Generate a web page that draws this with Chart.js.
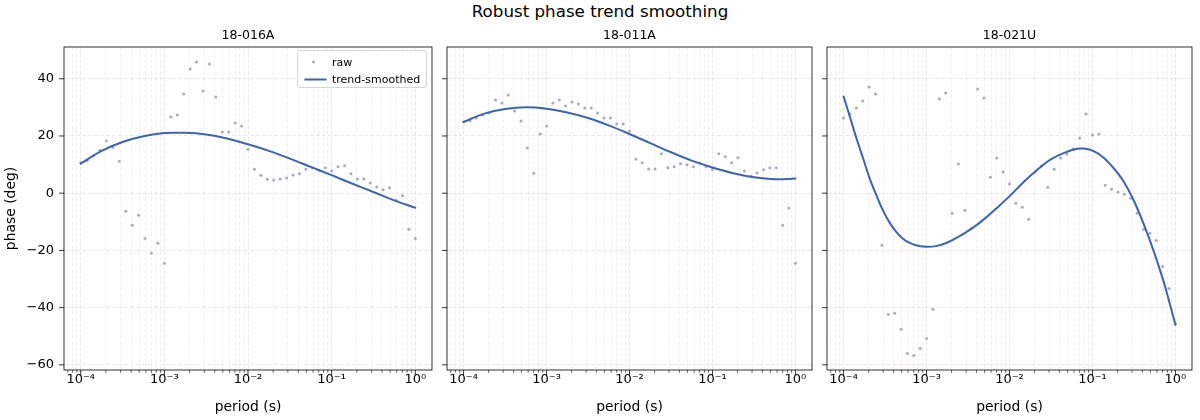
<!DOCTYPE html>
<html><head><meta charset="utf-8">
<script src="https://cdn.jsdelivr.net/npm/chart.js@4.4.1/dist/chart.umd.min.js"></script>
<style>
html,body{margin:0;padding:0;background:#fff;}
#wrap{position:relative;width:1200px;height:420px;overflow:hidden;background:#fff;}
canvas{position:absolute;top:0;}
#suptitle{position:absolute;left:0;top:0;width:1200px;text-align:center;font-family:"DejaVu Sans";font-size:16.7px;line-height:23px;color:#000;}
</style></head><body>
<div id="wrap">
<div id="suptitle">Robust phase trend smoothing</div>
<canvas id="c1" width="440" height="420" style="left:0px"></canvas>
<canvas id="c2" width="385" height="420" style="left:435px"></canvas>
<canvas id="c3" width="385" height="420" style="left:815px"></canvas>
</div>
<script>
// ---- data ----
const stations = ['18-016A', '18-011A', '18-021U'];
const periods = [
  1.000e-4, 1.194e-4, 1.425e-4, 1.701e-4, 2.031e-4, 2.424e-4, 2.894e-4, 3.455e-4, 4.125e-4, 4.924e-4, 5.878e-4, 7.017e-4, 8.377e-4,
  1.000e-3, 1.194e-3, 1.425e-3, 1.701e-3, 2.031e-3, 2.424e-3, 2.894e-3, 3.455e-3, 4.125e-3, 4.924e-3, 5.878e-3, 7.017e-3, 8.377e-3,
  1.000e-2, 1.194e-2, 1.425e-2, 1.701e-2, 2.031e-2, 2.424e-2, 2.894e-2, 3.455e-2, 4.125e-2, 4.924e-2, 5.878e-2, 7.017e-2, 8.377e-2,
  1.000e-1, 1.194e-1, 1.425e-1, 1.701e-1, 2.031e-1, 2.424e-1, 2.894e-1, 3.455e-1, 4.125e-1, 4.924e-1, 5.878e-1, 7.017e-1, 8.377e-1,
  1.000
];
const raw1 = [10.6, 11.4, 13.1, 15.0, 18.2, 16.1, 11.2, -6.3, -11.2, -7.7, -15.8, -21.0, -17.5, -24.5,
  26.6, 27.3, 34.7, 43.4, 45.9, 35.7, 45.2, 33.6, 21.4, 21.4, 24.5, 23.5, 15.4, 8.4, 6.3, 4.9, 4.6, 5.0,
  5.3, 6.4, 6.8, 8.5, 8.9, 8.0, 8.9, 7.8, 9.2, 9.6, 6.8, 5.0, 5.0, 3.6, 2.2, 1.2, 1.9, -2.5, -0.9, -12.6, -15.8];
const raw2 = [24.9, 25.3, 26.3, 27.3, 28.0, 32.6, 31.5, 34.3, 28.7, 25.2, 15.8, 7.0, 20.7, 23.5,
  31.5, 32.6, 30.5, 31.9, 31.2, 29.8, 29.8, 28.0, 26.3, 26.3, 24.2, 24.2, 21.7, 11.9, 10.6, 8.5, 8.5, 13.8,
  8.9, 9.2, 10.3, 9.9, 9.2, 10.6, 9.2, 8.3, 13.8, 12.7, 10.6, 12.4, 7.8, 5.9, 7.1, 8.2, 8.9, 8.9, -11.2, -5.2, -24.5];
const raw3 = [26.3, 27.7, 29.8, 32.2, 37.1, 34.7, -18.2, -42.4, -42.0, -47.6, -56.0, -56.7, -54.3, -50.8,
  -40.6, 32.9, 35.0, -7.0, 10.2, -6.0, -12.3, 36.4, 33.3, 5.6, 12.3, 7.4, 3.2, -3.5, -4.9, -9.1, 7.4, 9.5,
  2.1, 8.4, 12.3, 13.7, 15.5, 19.3, 27.7, 20.3, 20.7, 2.8, 1.4, 0.4, -0.4, -1.8, -7.0, -12.6, -14.0, -16.5, -25.6, -33.3, -45.7];
// smoothed trend, sampled along log10(period)
const trendLog1 = [-4, -3.75, -3.5, -3.25, -3, -2.75, -2.5, -2.25, -2, -1.75, -1.5, -1.25, -1, -0.75, -0.5, -0.25, 0];
const trend1 = [10.3, 14.8, 17.9, 19.9, 21.0, 21.1, 20.5, 19.1, 17.1, 14.8, 12.1, 9.2, 6.3, 3.3, 0.4, -2.5, -5.1];
const trendLog2 = [-4, -3.75, -3.5, -3.25, -3, -2.75, -2.5, -2.25, -2, -1.75, -1.5, -1.25, -1, -0.75, -0.5, -0.25, 0];
const trend2 = [24.9, 27.8, 29.4, 30.0, 29.5, 28.2, 26.3, 23.7, 20.7, 17.5, 14.3, 11.4, 9.0, 7.0, 5.6, 4.9, 5.1];
const trendLog3 = [-4.0, -3.925, -3.845, -3.765, -3.686, -3.606, -3.527, -3.447, -3.368, -3.288, -3.209, -3.129,
  -3.01, -2.89, -2.77, -2.612, -2.452, -2.294, -2.135, -1.98, -1.82, -1.661, -1.502, -1.342, -1.184, -1.104,
  -0.984, -0.865, -0.746, -0.626, -0.507, -0.388, -0.268, -0.149, -0.07, 0];
const trend3 = [33.8, 26.8, 19.2, 12.2, 5.2, -0.6, -5.9, -10.2, -13.4, -15.8, -17.3, -18.2,
  -18.7, -18.5, -17.5, -15.2, -12.3, -8.8, -4.7, -0.5, 4.2, 8.3, 11.8, 14.1, 15.5, 15.6,
  14.7, 12.4, 8.8, 4.2, -2.2, -10.4, -19.7, -30.2, -38.4, -46.0];
const xMajorTicks = [1e-4, 1e-3, 1e-2, 1e-1, 1];
const xTickLabels = ['10\u207B\u2074', '10\u207B\u00B3', '10\u207B\u00B2', '10\u207B\u00B9', '10\u2070'];
const yTicks = [-60, -40, -20, 0, 20, 40];

// ---- styling ----
const FONT = 'DejaVu Sans';
const lineColor = '#3d64b1';
const rawColor = 'rgb(166,172,192)';

// minor + major tick positions of the log axis
const xMin = Math.pow(10, -4.2), xMax = Math.pow(10, 0.2);
const xTickValues = [];
for (let e = -5; e <= 0; e++) {
  for (let m = 1; m <= 9; m++) {
    const v = m * Math.pow(10, e);
    if (v >= xMin && v <= xMax) xTickValues.push({ value: v, major: m === 1 });
  }
}
function majorLabel(v) {
  for (let i = 0; i < xMajorTicks.length; i++) {
    if (Math.abs(Math.log10(v) - Math.log10(xMajorTicks[i])) < 1e-6) return xTickLabels[i];
  }
  return '';
}

const framePlugin = {
  id: 'frame',
  afterDraw(chart, args, opts) {
    const { ctx, chartArea: a, scales } = chart;
    const xs = scales.x, ys = scales.y;
    ctx.save();
    ctx.strokeStyle = '#000';
    xs.ticks.forEach(t => {
      const px = xs.getPixelForValue(t.value);
      ctx.lineWidth = t.major ? 0.8 : 0.6;
      ctx.beginPath();
      ctx.moveTo(px, a.bottom);
      ctx.lineTo(px, a.bottom + (t.major ? 4.9 : 2.8));
      ctx.stroke();
    });
    ys.ticks.forEach(t => {
      const py = ys.getPixelForValue(t.value);
      ctx.lineWidth = 0.8;
      ctx.beginPath();
      ctx.moveTo(a.left, py);
      ctx.lineTo(a.left - 4.9, py);
      ctx.stroke();
    });
    ctx.lineWidth = 0.8;
    ctx.strokeRect(a.left, a.top, a.right - a.left, a.bottom - a.top);
    ctx.fillStyle = '#000';
    ctx.font = '12.5px "' + FONT + '"';
    ctx.textAlign = 'center';
    ctx.textBaseline = 'alphabetic';
    ctx.fillText(opts.title, (a.left + a.right) / 2, a.top - 8.3);
    if (opts.legend) {
      const bx = a.right - 134.5, by = a.top + 3.5, bw = 129, bh = 37;
      ctx.beginPath();
      if (ctx.roundRect) ctx.roundRect(bx, by, bw, bh, 2.5); else ctx.rect(bx, by, bw, bh);
      ctx.fillStyle = 'rgba(255,255,255,0.8)';
      ctx.fill();
      ctx.strokeStyle = '#cccccc';
      ctx.lineWidth = 0.8;
      ctx.stroke();
      ctx.fillStyle = rawColor;
      ctx.beginPath();
      ctx.arc(bx + 16, by + 11.5, 1.5, 0, Math.PI * 2);
      ctx.fill();
      ctx.strokeStyle = lineColor;
      ctx.lineWidth = 2;
      ctx.beginPath();
      ctx.moveTo(bx + 7, by + 29);
      ctx.lineTo(bx + 29, by + 29);
      ctx.stroke();
      ctx.fillStyle = '#000';
      ctx.font = '11px "' + FONT + '"';
      ctx.textAlign = 'left';
      ctx.fillText('raw', bx + 34.5, by + 15.5);
      ctx.fillText('trend-smoothed', bx + 34.5, by + 32.5);
    }
    ctx.restore();
  }
};

function makeChart(id, idx, rawVals, tLog, tVals) {
  const first = idx === 0;
  return new Chart(document.getElementById(id), {
    type: 'scatter',
    data: {
      datasets: [
        {
          label: 'trend-smoothed',
          data: tLog.map((e, i) => ({ x: Math.pow(10, e), y: tVals[i] })),
          showLine: true, borderColor: lineColor, borderWidth: 2, pointRadius: 0,
          tension: 0.35, fill: false, borderCapStyle: 'round', borderJoinStyle: 'round'
        },
        {
          label: 'raw',
          data: periods.map((p, i) => ({ x: p, y: rawVals[i] })),
          showLine: false, pointRadius: 1.5, pointBorderWidth: 0,
          pointBackgroundColor: rawColor, backgroundColor: rawColor
        }
      ]
    },
    options: {
      responsive: false, animation: false, devicePixelRatio: 1,
      layout: { padding: { top: 47, right: 8, left: 0, bottom: 0 } },
      plugins: {
        legend: { display: false }, tooltip: { enabled: false },
        frame: { title: stations[idx], legend: first }
      },
      scales: {
        x: {
          type: 'logarithmic', min: xMin, max: xMax, bounds: 'data',
          afterBuildTicks: s => { s.ticks = xTickValues.map(t => ({ value: t.value, major: t.major })); },
          afterFit: s => { s.height = 50; },
          ticks: {
            autoSkip: false, maxRotation: 0, minRotation: 0, padding: 2, color: '#000',
            font: { family: FONT, size: 13 },
            callback: (v, i, ts) => (ts[i] && ts[i].major ? majorLabel(v) : '')
          },
          grid: {
            drawTicks: false, lineWidth: 0.8,
            color: c => (c.tick && c.tick.major ? 'rgba(0,0,0,0.11)' : 'rgba(0,0,0,0.07)')
          },
          border: { display: false, dash: [4, 2] },
          title: {
            display: true, text: 'period (s)', color: '#000',
            font: { family: FONT, size: 13.9 }, padding: { top: 0, bottom: 4 }
          }
        },
        y: {
          type: 'linear', min: -61.8, max: 51.1, bounds: 'data',
          afterBuildTicks: s => { s.ticks = yTicks.map(v => ({ value: v })); },
          afterFit: s => { s.width = first ? 64 : 12; },
          ticks: {
            display: first, padding: 10, color: '#000',
            font: { family: FONT, size: 13 },
            callback: v => (v < 0 ? '\u2212' + Math.abs(v) : String(v))
          },
          grid: { drawTicks: false, lineWidth: 0.8, color: 'rgba(0,0,0,0.10)' },
          border: { display: false, dash: [4, 2] },
          title: {
            display: first, text: 'phase (deg)', color: '#000',
            font: { family: FONT, size: 13.9 }, padding: { top: 3.5, bottom: 0 }
          }
        }
      }
    },
    plugins: [framePlugin]
  });
}

makeChart('c1', 0, raw1, trendLog1, trend1);
makeChart('c2', 1, raw2, trendLog2, trend2);
makeChart('c3', 2, raw3, trendLog3, trend3);
</script>
</body></html>
